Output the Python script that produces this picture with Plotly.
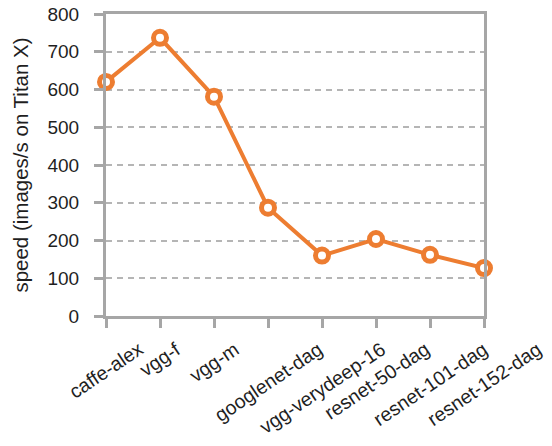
import plotly.graph_objects as go

models = ["caffe-alex", "vgg-f", "vgg-m", "googlenet-dag", "vgg-verydeep-16",
          "resnet-50-dag", "resnet-101-dag", "resnet-152-dag"]
speed = [620, 737, 581, 287, 160, 204, 162, 127]
y_ticks = [0, 100, 200, 300, 400, 500, 600, 700, 800]

ORANGE = "#ED7D31"
GRAY = "#a6a6a6"
TEXT = "#1f1f1f"
FONT = "Liberation Sans, Arial, sans-serif"

fig = go.Figure()
fig.add_trace(go.Scatter(
    x=models, y=speed, mode="lines+markers",
    line=dict(color=ORANGE, width=4),
    marker=dict(symbol="circle", size=13, color="white",
                line=dict(color=ORANGE, width=5)),
    cliponaxis=False, showlegend=False,
))

for m in models:
    fig.add_annotation(x=m, y=0, xref="x", yref="paper", text=m,
                       showarrow=False, textangle=-34, xanchor="center",
                       yanchor="top", yshift=-19,
                       font=dict(family=FONT, size=19.5, color=TEXT))

fig.update_layout(
    template="none",
    width=552, height=446,
    margin=dict(l=106, r=68, t=14, b=130),
    paper_bgcolor="white", plot_bgcolor="white",
    font=dict(family=FONT, size=19, color=TEXT),
)
fig.update_xaxes(
    type="category", range=[0, len(models) - 1], automargin=False,
    showline=True, mirror=True, linecolor=GRAY, linewidth=3,
    ticks="outside", ticklen=9, tickwidth=3, tickcolor=GRAY,
    showticklabels=False, showgrid=False, zeroline=False,
)
fig.update_yaxes(
    range=[0, 800], tickvals=y_ticks, automargin=False,
    showline=True, mirror=True, linecolor=GRAY, linewidth=3,
    ticks="outside", ticklen=9, tickwidth=3, tickcolor=GRAY,
    ticklabelstandoff=11, tickfont=dict(family=FONT, size=19, color=TEXT),
    showgrid=True, gridcolor="#b5b5b5", gridwidth=2, griddash="6px,5px",
    zeroline=False,
    title=dict(text="speed (images/s on Titan X)", standoff=14,
               font=dict(family=FONT, size=20.5, color=TEXT)),
)

fig.write_html("out.html", config={"displayModeBar": False},
               post_script="document.body.style.margin='0px';")
